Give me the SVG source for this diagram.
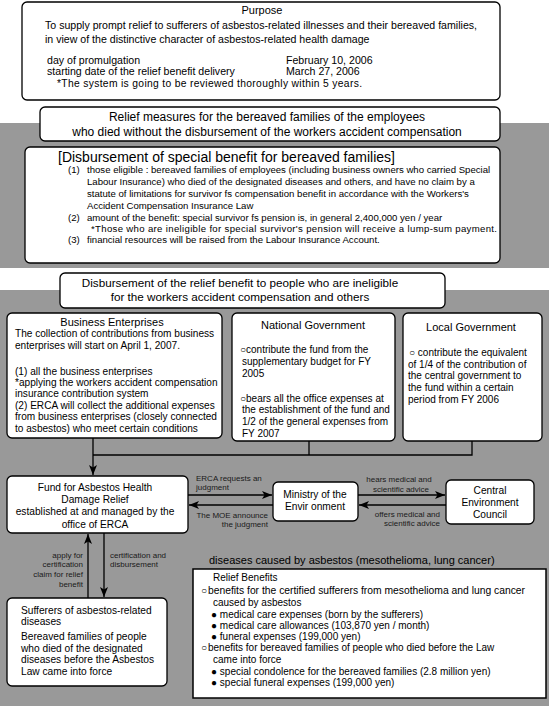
<svg xmlns="http://www.w3.org/2000/svg" width="549" height="706" viewBox="0 0 549 706">
<defs>
<style>
text{font-family:"Liberation Sans",Arial,sans-serif;fill:#000}
.box{fill:#fff;stroke:#000;stroke-width:1.3}
.tp{font-size:10.6px}
.t11{font-size:11px}
.t10{font-size:10px}
.tb{font-size:10.1px}
.tf{font-size:10.2px}
.ti{font-size:9.6px}
.t12{font-size:12px}
.th{font-size:11.7px}
.t14{font-size:14px}
.sm{font-size:10.3px}
.lab{font-size:8px;fill:#1a1a1a}
.c{text-anchor:middle}
.r{text-anchor:end}
.ln{fill:none;stroke:#000;stroke-width:1.3}
</style>
<marker id="ah" viewBox="0 0 10 8" refX="10" refY="4" markerWidth="10" markerHeight="8" markerUnits="userSpaceOnUse" orient="auto">
<path d="M0,0 L10,4 L0,8 L2.5,4 Z" fill="#000"/>
</marker>
</defs>
<rect x="0" y="0" width="549" height="706" fill="#fff"/>
<rect x="0" y="123" width="549" height="145" fill="#999"/>
<rect x="0" y="290" width="549" height="416" fill="#999"/>

<g id="purpose">
<rect class="box" x="22" y="2" width="478" height="98" rx="5"/>
<text class="t11 c" x="262" y="14">Purpose</text>
<text class="tp" x="45" y="29">To supply prompt relief to sufferers of asbestos-related illnesses and their bereaved families,</text>
<text class="tp" x="45" y="43">in view of the distinctive character of asbestos-related health damage</text>
<text class="tp" x="47" y="64">day of promulgation</text>
<text class="tp" x="286" y="64">February 10, 2006</text>
<text class="tp" x="47" y="75">starting date of the relief benefit delivery</text>
<text class="tp" x="286" y="75">March 27, 2006</text>
<text class="sm" x="57" y="87" textLength="305" lengthAdjust="spacing">*The system is going to be reviewed thoroughly within 5 years.</text>
</g>

<g id="relief-header">
<rect class="box" x="40" y="107" width="460" height="34" rx="5"/>
<text class="t12 c" x="267" y="121">Relief measures for the bereaved families of the employees</text>
<text class="t12 c" x="267" y="136">who died without the disbursement of the workers accident compensation</text>
</g>

<g id="special-benefit">
<rect class="box" x="25" y="147" width="475" height="116" rx="5"/>
<text class="t14" x="58" y="162">[Disbursement of special benefit for bereaved families]</text>
<text class="ti" x="68" y="173">(1)</text>
<text class="ti" x="87" y="173">those eligible : bereaved families of employees (including business owners who carried Special</text>
<text class="ti" x="87" y="185">Labour Insurance) who died of the designated diseases and others, and have no claim by a</text>
<text class="ti" x="87" y="197">statute of limitations for survivor fs compensation benefit in accordance with the Workers's</text>
<text class="ti" x="87" y="209">Accident Compensation Insurance Law</text>
<text class="ti" x="68" y="221">(2)</text>
<text class="ti" x="87" y="221">amount of the benefit: special survivor fs pension is, in general 2,400,000 yen / year</text>
<text class="ti" x="91" y="232" textLength="406" lengthAdjust="spacing">*Those who are ineligible for special survivor's pension will receive a lump-sum payment.</text>
<text class="ti" x="68" y="243">(3)</text>
<text class="ti" x="87" y="243">financial resources will be raised from the Labour Insurance Account.</text>
</g>

<g id="disb-header">
<rect class="box" x="60" y="273" width="385" height="35" rx="5"/>
<text class="th c" x="240" y="287">Disbursement of the relief benefit to people who are ineligible</text>
<text class="th c" x="240" y="301">for the workers accident compensation and others</text>
</g>

<g id="business">
<rect class="box" x="7" y="313" width="215" height="125" rx="5"/>
<text class="t11 c" x="112" y="326">Business Enterprises</text>
<text class="tb" x="15" y="337">The collection of contributions from business</text>
<text class="tb" x="15" y="349">enterprises will start on April 1, 2007.</text>
<text class="tb" x="15" y="375">(1) all the business enterprises</text>
<text class="tb" x="15" y="386">*applying the workers accident compensation</text>
<text class="tb" x="15" y="397">insurance contribution system</text>
<text class="tb" x="15" y="409">(2) ERCA will collect the additional expenses</text>
<text class="tb" x="15" y="420">from business enterprises (closely connected</text>
<text class="tb" x="15" y="432">to asbestos) who meet certain conditions</text>
</g>

<g id="national">
<rect class="box" x="232" y="313" width="163" height="128" rx="5"/>
<text class="t11 c" x="313" y="329">National Government</text>
<text class="t10" x="240" y="353">○contribute the fund from the</text>
<text class="t10" x="242" y="365">supplementary budget for FY</text>
<text class="t10" x="242" y="377">2005</text>
<text class="t10" x="240" y="402">○bears all the office expenses at</text>
<text class="t10" x="242" y="413">the establishment of the fund and</text>
<text class="t10" x="242" y="425">1/2 of the general expenses from</text>
<text class="t10" x="242" y="437">FY 2007</text>
</g>

<g id="local">
<rect class="box" x="403" y="313" width="139" height="128" rx="5"/>
<text class="t11 c" x="471" y="331">Local Government</text>
<text class="t10" x="409" y="356">○ contribute the equivalent</text>
<text class="t10" x="408" y="368">of 1/4 of the contribution of</text>
<text class="t10" x="408" y="379">the central government to</text>
<text class="t10" x="408" y="391">the fund within a certain</text>
<text class="t10" x="408" y="403">period from FY 2006</text>
</g>

<g id="fund">
<rect class="box" x="7" y="476" width="181" height="57" rx="5"/>
<text class="tf c" x="95" y="491">Fund for Asbestos Health</text>
<text class="tf c" x="95" y="503">Damage Relief</text>
<text class="tf c" x="95" y="515">established at and managed by the</text>
<text class="tf c" x="95" y="528">office of ERCA</text>
</g>

<g id="ministry">
<rect class="box" x="273" y="482" width="85" height="39" rx="5"/>
<text class="tf c" x="315" y="498">Ministry of the</text>
<text class="tf c" x="315" y="510">Envir onment</text>
</g>

<g id="council">
<rect class="box" x="446" y="480" width="88" height="44" rx="5"/>
<text class="tf c" x="490" y="494">Central</text>
<text class="tf c" x="490" y="506">Environment</text>
<text class="tf c" x="490" y="518">Council</text>
</g>

<g id="sufferers">
<rect class="box" x="7" y="598" width="160" height="88" rx="5"/>
<text class="tf" x="21" y="614">Sufferers of asbestos-related</text>
<text class="tf" x="21" y="625">diseases</text>
<text class="tf" x="21" y="640">Bereaved families of people</text>
<text class="tf" x="21" y="652">who died of the designated</text>
<text class="tf" x="21" y="663">diseases before the Asbestos</text>
<text class="tf" x="21" y="675">Law came into force</text>
</g>

<g id="relief-benefits">
<text class="t11" x="209" y="564">diseases caused by asbestos (mesothelioma, lung cancer)</text>
<rect x="193" y="569" width="353" height="129" fill="#fff" stroke="#000" stroke-width="1.5"/>
<text class="t10" x="213" y="581">Relief Benefits</text>
<text class="t10" x="201" y="594">○</text>
<text class="t10" x="208" y="594" textLength="317" lengthAdjust="spacingAndGlyphs">benefits for the certified sufferers from mesothelioma and lung cancer</text>
<text class="t10" x="213" y="606">caused by asbestos</text>
<text class="t10" x="211" y="618">● medical care expenses (born by the sufferers)</text>
<text class="t10" x="211" y="629">● medical care allowances (103,870 yen / month)</text>
<text class="t10" x="211" y="640">● funeral expenses (199,000 yen)</text>
<text class="t10" x="201" y="651">○</text>
<text class="t10" x="208" y="651">benefits for bereaved families of people who died before the Law</text>
<text class="t10" x="213" y="663">came into force</text>
<text class="t10" x="211" y="675">● special condolence for the bereaved families (2.8 million yen)</text>
<text class="t10" x="211" y="686">● special funeral expenses (199,000 yen)</text>
</g>

<g id="connectors">
<path class="ln" d="M93,438 V475" marker-end="url(#ah)"/>
<path class="ln" d="M93,455 H472 V441 M309,441 V455"/>
<path class="ln" d="M188,495 H272" marker-end="url(#ah)"/>
<path class="ln" d="M273,505 H189" marker-end="url(#ah)"/>
<path class="ln" d="M358,495 H445" marker-end="url(#ah)"/>
<path class="ln" d="M446,505 H359" marker-end="url(#ah)"/>
<path class="ln" d="M88,598 V534" marker-end="url(#ah)"/>
<path class="ln" d="M104,533 V597" marker-end="url(#ah)"/>
<text class="lab" x="196" y="481">ERCA requests an</text>
<text class="lab" x="196" y="490">judgment</text>
<text class="lab r" x="268" y="518">The MOE announce</text>
<text class="lab r" x="268" y="527">the judgment</text>
<text class="lab c" x="399" y="482">hears medical and</text>
<text class="lab c" x="401" y="492">scientific  advice</text>
<text class="lab r" x="440" y="517">offers medical and</text>
<text class="lab r" x="440" y="526">scientific advice</text>
<text class="lab r" x="83" y="558">apply for</text>
<text class="lab r" x="83" y="567">certification</text>
<text class="lab r" x="83" y="577">claim for relief</text>
<text class="lab r" x="83" y="587">benefit</text>
<text class="lab" x="110" y="558">certification and</text>
<text class="lab" x="110" y="567">disbursement</text>
</g>
</svg>
